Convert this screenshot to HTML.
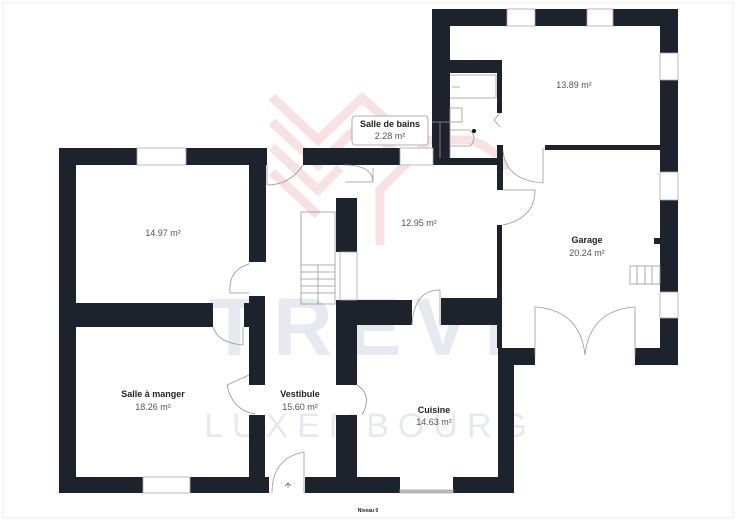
<!DOCTYPE html>
<html><head><meta charset="utf-8"><style>
body{margin:0;background:#fff;}
svg{display:block;font-family:"Liberation Sans",sans-serif;}
</style></head><body>
<svg width="736" height="521" viewBox="0 0 736 521" xmlns="http://www.w3.org/2000/svg">
<rect x="3" y="3" width="730" height="515" fill="#fff" stroke="#eee" stroke-width="1"/>
<!-- watermark -->
<g stroke="#f4c9cd" stroke-width="9" fill="none" opacity="0.55">
<polyline points="272,97 318,140 362,98 410,140"/>
<polyline points="272,122 318,165 362,123 410,165"/>
<polyline points="272,147 318,190 340,168"/>
<polyline points="272,172 318,215"/>
<path d="M380,245 L380,190 L430,140 L470,140 Q500,150 505,170"/>
</g>
<text x="365" y="355" text-anchor="middle" font-size="82" font-weight="bold" fill="#e6e9ef" letter-spacing="14">TREVI</text>
<text x="370" y="437" text-anchor="middle" font-size="34" fill="#e6e9ef" letter-spacing="9">LUXEMBOURG</text>
<g fill="#1c232d">
<rect x="59" y="148" width="208" height="17"/>
<rect x="59" y="148" width="17" height="345"/>
<rect x="59" y="477" width="210" height="16"/>
<rect x="76" y="303" width="137" height="24"/>
<rect x="249" y="148" width="17" height="114"/>
<rect x="249" y="296" width="16" height="89"/>
<rect x="244" y="303" width="21" height="24"/>
<rect x="249" y="415" width="16" height="62"/>
<rect x="303" y="148" width="97" height="17"/>
<rect x="433" y="148" width="17" height="17"/>
<rect x="450" y="158" width="50" height="7"/>
<rect x="336" y="198" width="21" height="54"/>
<rect x="336" y="300" width="21" height="85"/>
<rect x="336" y="300" width="76" height="25"/>
<rect x="441" y="298" width="59" height="27"/>
<rect x="336" y="415" width="21" height="78"/>
<rect x="305" y="477" width="95" height="16"/>
<rect x="453" y="477" width="61" height="16"/>
<rect x="498" y="348" width="16" height="145"/>
<rect x="498" y="348" width="37" height="17"/>
<rect x="432" y="9" width="18" height="156"/>
<rect x="432" y="9" width="246" height="17"/>
<rect x="660" y="9" width="18" height="351"/>
<rect x="450" y="60" width="52" height="13"/>
<rect x="497" y="60" width="5" height="53"/>
<rect x="497" y="145" width="6" height="45"/>
<rect x="545" y="145" width="115" height="5"/>
<rect x="497" y="225" width="5" height="123"/>
<rect x="635" y="348" width="43" height="17"/>
<rect x="654" y="238" width="6" height="6"/>
</g>
<g fill="#fff" stroke="#aaa" stroke-width="0.8">
<rect x="137" y="148" width="49" height="17"/>
<rect x="143" y="477" width="47" height="16"/>
<rect x="400" y="148" width="33" height="17"/>
<rect x="507" y="9" width="28" height="17"/>
<rect x="587" y="9" width="26" height="17"/>
<rect x="660" y="53" width="18" height="27"/>
<rect x="660" y="172" width="18" height="28"/>
<rect x="660" y="292" width="18" height="26"/>
<rect x="340" y="252" width="17" height="48"/>
<rect x="400" y="490" width="53" height="3" fill="#bbb"/>
</g>
<g fill="none" stroke="#999" stroke-width="0.8">
<rect x="301" y="212" width="34" height="92"/>
<path d="M301,265 L335,265 M301,272 L335,272 M301,279 L335,279 M301,286 L335,286 M301,293 L335,293 M318,265 L318,304"/>
<rect x="630" y="266" width="30" height="18"/>
<path d="M637,266 L637,284 M645,266 L645,284 M652,266 L652,284"/>
<path d="M267,185 Q290,185 303,165 M267,165 L267,185"/>
<path d="M345,165 Q372,165 373,182 M373,168 L373,182 L345,182"/>
<path d="M249,264 Q228,270 230,293 L249,293"/>
<path d="M213,327 Q218,343 243,345 L243,327"/>
<path d="M249,375 L227,385 Q232,410 255,414"/>
<path d="M357,385 Q373,395 362,415"/>
<path d="M272,493 Q272,458 304,452 L304,493"/>
<path d="M412,325 Q414,290 440,290 L440,325"/>
<path d="M503,150 Q505,180 543,183 L543,148"/>
<path d="M503,190 L535,190 Q535,218 503,225"/>
<path d="M535,307 L535,357 M535,307 Q580,310 585,355 M635,307 L635,357 M635,307 Q590,310 585,355"/>
<path d="M450,75 L496,75 L496,98 L450,98 M452,87 L460,87"/>
<rect x="450" y="108" width="12" height="14"/>
<path d="M450,130 L470,130 Q478,138 470,146 L450,146"/>
<path d="M500,113 L494,120 L500,127"/>
<path d="M432,122 L450,122 L450,158 M440,122 L440,158"/>
</g>
<circle cx="474" cy="131" r="2" fill="#111"/>
<path d="M288,488 L288,483 M285,486 L288,483 L291,486" stroke="#666" fill="none" stroke-width="0.8"/>
<rect x="352" y="116" width="76" height="29" rx="3" fill="#fff" stroke="#999" stroke-width="0.8"/>
<g text-anchor="middle" font-size="9">
<text x="390" y="127" font-weight="bold" fill="#222">Salle de bains</text>
<text x="390" y="139" fill="#555">2.28 m²</text>
<text x="163" y="236" fill="#555">14.97 m²</text>
<text x="153" y="397" font-weight="bold" fill="#222">Salle à manger</text>
<text x="153" y="410" fill="#555">18.26 m²</text>
<text x="300" y="397" font-weight="bold" fill="#222">Vestibule</text>
<text x="300" y="410" fill="#555">15.60 m²</text>
<text x="434" y="413" font-weight="bold" fill="#222">Cuisine</text>
<text x="434" y="425" fill="#555">14.63 m²</text>
<text x="419" y="226" fill="#555">12.95 m²</text>
<text x="574" y="88" fill="#555">13.89 m²</text>
<text x="587" y="243" font-weight="bold" fill="#222">Garage</text>
<text x="587" y="256" fill="#555">20.24 m²</text>
<text x="368" y="512" font-size="5" font-weight="bold" fill="#222">Niveau 0</text>
</g>
</svg>
</body></html>
